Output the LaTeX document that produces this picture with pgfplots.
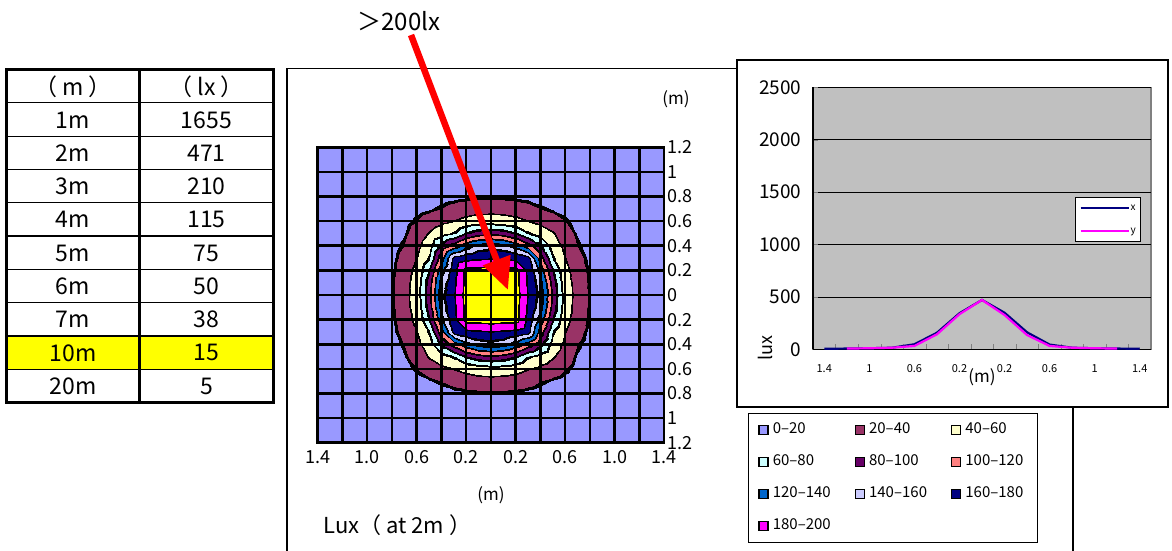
\documentclass[border=0pt]{standalone}
\usepackage{fontspec}
\setmainfont{Noto Sans CJK JP}
\usepackage{pgfplots}
\usepackage{pgfplotstable}
\pgfplotsset{compat=1.18}
\usetikzlibrary{arrows.meta}

\newcommand{\fsz}[1]{\fontsize{#1}{#1}\selectfont}

\definecolor{c0}{HTML}{9999FF}
\definecolor{c20}{HTML}{993366}
\definecolor{c40}{HTML}{FFFFCC}
\definecolor{c60}{HTML}{CCFFFF}
\definecolor{c80}{HTML}{660066}
\definecolor{c100}{HTML}{FF8080}
\definecolor{c120}{HTML}{0066CC}
\definecolor{c140}{HTML}{CCCCFF}
\definecolor{c160}{HTML}{000080}
\definecolor{c180}{HTML}{FF00FF}
\definecolor{c200}{HTML}{FFFF00}
\definecolor{plotgray}{HTML}{C0C0C0}
\definecolor{framegray}{HTML}{808080}

% bands of 20 lx, with a thin black band at each level (contour lines)
\pgfplotsset{colormap={lux}{
  color(0pt)=(c0) color(19.3pt)=(c0) color(19.4pt)=(black) color(22pt)=(black) color(22.1pt)=(c20)
  color(38.7pt)=(c20) color(38.8pt)=(black) color(41.2pt)=(black) color(41.3pt)=(c40)
  color(57.4pt)=(c40) color(57.5pt)=(black) color(64pt)=(black) color(64.1pt)=(c60)
  color(75.9pt)=(c60) color(76pt)=(black) color(84pt)=(black) color(84.1pt)=(c80)
  color(95.9pt)=(c80) color(96pt)=(black) color(104pt)=(black) color(104.1pt)=(c100)
  color(115.9pt)=(c100) color(116pt)=(black) color(124pt)=(black) color(124.1pt)=(c120)
  color(135.9pt)=(c120) color(136pt)=(black) color(144pt)=(black) color(144.1pt)=(c140)
  color(155.9pt)=(c140) color(156pt)=(black) color(162pt)=(black) color(162.1pt)=(c160)
  color(177.7pt)=(c160) color(177.8pt)=(black) color(182.2pt)=(black) color(182.3pt)=(c180)
  color(197.7pt)=(c180) color(197.8pt)=(black) color(202.2pt)=(black) color(202.3pt)=(c200)
  color(500pt)=(c200)}}

% illuminance (lx) at 2 m; 0.1 m steps in the middle, 0.2 m outside
\pgfplotstableread[row sep=\\]{
x y z\\
-1.4 -1.2 3.9\\ -1.2 -1.2 4.3\\ -1.0 -1.2 4.7\\ -0.8 -1.2 5.3\\ -0.7 -1.2 5.7\\ -0.6 -1.2 6\\ -0.5 -1.2 6.3\\ -0.4 -1.2 6.5\\ -0.3 -1.2 6.7\\ -0.2 -1.2 6.9\\ -0.1 -1.2 7\\ 0 -1.2 7\\ 0.1 -1.2 7\\ 0.2 -1.2 6.9\\ 0.3 -1.2 6.7\\ 0.4 -1.2 6.5\\ 0.5 -1.2 6.3\\ 0.6 -1.2 6\\ 0.7 -1.2 5.7\\ 0.8 -1.2 5.3\\ 1.0 -1.2 4.7\\ 1.2 -1.2 4.3\\ 1.4 -1.2 3.9\\
-1.4 -1.0 4\\ -1.2 -1.0 4.7\\ -1.0 -1.0 6.1\\ -0.8 -1.0 7.05\\ -0.7 -1.0 7.7\\ -0.6 -1.0 8.3\\ -0.5 -1.0 8.8\\ -0.4 -1.0 9.2\\ -0.3 -1.0 9.5\\ -0.2 -1.0 9.8\\ -0.1 -1.0 9.95\\ 0 -1.0 10\\ 0.1 -1.0 9.95\\ 0.2 -1.0 9.8\\ 0.3 -1.0 9.5\\ 0.4 -1.0 9.2\\ 0.5 -1.0 8.8\\ 0.6 -1.0 8.3\\ 0.7 -1.0 7.7\\ 0.8 -1.0 7.05\\ 1.0 -1.0 6.1\\ 1.2 -1.0 4.7\\ 1.4 -1.0 4\\
-1.4 -0.8 4.3\\ -1.2 -0.8 5.3\\ -1.0 -0.8 7.05\\ -0.8 -0.8 9.5\\ -0.7 -0.8 10.5\\ -0.6 -0.8 11.8\\ -0.5 -0.8 13\\ -0.4 -0.8 15.2\\ -0.3 -0.8 17\\ -0.2 -0.8 18.3\\ -0.1 -0.8 19.1\\ 0 -0.8 19.2\\ 0.1 -0.8 19.1\\ 0.2 -0.8 18.3\\ 0.3 -0.8 17\\ 0.4 -0.8 15.2\\ 0.5 -0.8 13\\ 0.6 -0.8 11.8\\ 0.7 -0.8 10.5\\ 0.8 -0.8 9.5\\ 1.0 -0.8 7.05\\ 1.2 -0.8 5.3\\ 1.4 -0.8 4.3\\
-1.4 -0.7 4.4\\ -1.2 -0.7 5.7\\ -1.0 -0.7 7.7\\ -0.8 -0.7 10.5\\ -0.7 -0.7 12.9\\ -0.6 -0.7 15.8\\ -0.5 -0.7 18.6\\ -0.4 -0.7 22.2\\ -0.3 -0.7 26.7\\ -0.2 -0.7 30\\ -0.1 -0.7 32\\ 0 -0.7 33\\ 0.1 -0.7 32\\ 0.2 -0.7 30\\ 0.3 -0.7 26.7\\ 0.4 -0.7 22.2\\ 0.5 -0.7 18.6\\ 0.6 -0.7 15.8\\ 0.7 -0.7 12.9\\ 0.8 -0.7 10.5\\ 1.0 -0.7 7.7\\ 1.2 -0.7 5.7\\ 1.4 -0.7 4.4\\
-1.4 -0.6 4.6\\ -1.2 -0.6 6\\ -1.0 -0.6 8.3\\ -0.8 -0.6 11.8\\ -0.7 -0.6 15.8\\ -0.6 -0.6 22.3\\ -0.5 -0.6 29\\ -0.4 -0.6 35\\ -0.3 -0.6 40\\ -0.2 -0.6 46\\ -0.1 -0.6 50\\ 0 -0.6 51\\ 0.1 -0.6 50\\ 0.2 -0.6 46\\ 0.3 -0.6 40\\ 0.4 -0.6 35\\ 0.5 -0.6 29\\ 0.6 -0.6 22.3\\ 0.7 -0.6 15.8\\ 0.8 -0.6 11.8\\ 1.0 -0.6 8.3\\ 1.2 -0.6 6\\ 1.4 -0.6 4.6\\
-1.4 -0.5 4.7\\ -1.2 -0.5 6.3\\ -1.0 -0.5 8.8\\ -0.8 -0.5 13\\ -0.7 -0.5 18.6\\ -0.6 -0.5 29\\ -0.5 -0.5 41\\ -0.4 -0.5 51.5\\ -0.3 -0.5 61\\ -0.2 -0.5 79\\ -0.1 -0.5 90\\ 0 -0.5 94\\ 0.1 -0.5 90\\ 0.2 -0.5 79\\ 0.3 -0.5 61\\ 0.4 -0.5 51.5\\ 0.5 -0.5 41\\ 0.6 -0.5 29\\ 0.7 -0.5 18.6\\ 0.8 -0.5 13\\ 1.0 -0.5 8.8\\ 1.2 -0.5 6.3\\ 1.4 -0.5 4.7\\
-1.4 -0.4 4.8\\ -1.2 -0.4 6.5\\ -1.0 -0.4 9.2\\ -0.8 -0.4 15.2\\ -0.7 -0.4 22.2\\ -0.6 -0.4 35\\ -0.5 -0.4 51.5\\ -0.4 -0.4 85\\ -0.3 -0.4 111\\ -0.2 -0.4 133\\ -0.1 -0.4 148\\ 0 -0.4 153\\ 0.1 -0.4 148\\ 0.2 -0.4 133\\ 0.3 -0.4 111\\ 0.4 -0.4 85\\ 0.5 -0.4 51.5\\ 0.6 -0.4 35\\ 0.7 -0.4 22.2\\ 0.8 -0.4 15.2\\ 1.0 -0.4 9.2\\ 1.2 -0.4 6.5\\ 1.4 -0.4 4.8\\
-1.4 -0.3 4.9\\ -1.2 -0.3 6.7\\ -1.0 -0.3 9.5\\ -0.8 -0.3 17\\ -0.7 -0.3 26.7\\ -0.6 -0.3 40\\ -0.5 -0.3 61\\ -0.4 -0.3 111\\ -0.3 -0.3 166\\ -0.2 -0.3 174\\ -0.1 -0.3 177\\ 0 -0.3 178\\ 0.1 -0.3 177\\ 0.2 -0.3 174\\ 0.3 -0.3 166\\ 0.4 -0.3 111\\ 0.5 -0.3 61\\ 0.6 -0.3 40\\ 0.7 -0.3 26.7\\ 0.8 -0.3 17\\ 1.0 -0.3 9.5\\ 1.2 -0.3 6.7\\ 1.4 -0.3 4.9\\
-1.4 -0.2 4.95\\ -1.2 -0.2 6.9\\ -1.0 -0.2 9.8\\ -0.8 -0.2 18.3\\ -0.7 -0.2 30\\ -0.6 -0.2 46\\ -0.5 -0.2 79\\ -0.4 -0.2 133\\ -0.3 -0.2 174\\ -0.2 -0.2 206\\ -0.1 -0.2 207\\ 0 -0.2 208\\ 0.1 -0.2 207\\ 0.2 -0.2 206\\ 0.3 -0.2 174\\ 0.4 -0.2 133\\ 0.5 -0.2 79\\ 0.6 -0.2 46\\ 0.7 -0.2 30\\ 0.8 -0.2 18.3\\ 1.0 -0.2 9.8\\ 1.2 -0.2 6.9\\ 1.4 -0.2 4.95\\
-1.4 -0.1 5\\ -1.2 -0.1 7\\ -1.0 -0.1 9.95\\ -0.8 -0.1 19.1\\ -0.7 -0.1 32\\ -0.6 -0.1 50\\ -0.5 -0.1 90\\ -0.4 -0.1 148\\ -0.3 -0.1 177\\ -0.2 -0.1 207\\ -0.1 -0.1 315\\ 0 -0.1 330\\ 0.1 -0.1 315\\ 0.2 -0.1 207\\ 0.3 -0.1 177\\ 0.4 -0.1 148\\ 0.5 -0.1 90\\ 0.6 -0.1 50\\ 0.7 -0.1 32\\ 0.8 -0.1 19.1\\ 1.0 -0.1 9.95\\ 1.2 -0.1 7\\ 1.4 -0.1 5\\
-1.4 0 5\\ -1.2 0 7\\ -1.0 0 10\\ -0.8 0 19.2\\ -0.7 0 33\\ -0.6 0 51\\ -0.5 0 94\\ -0.4 0 153\\ -0.3 0 178\\ -0.2 0 208\\ -0.1 0 330\\ 0 0 471\\ 0.1 0 330\\ 0.2 0 208\\ 0.3 0 178\\ 0.4 0 153\\ 0.5 0 94\\ 0.6 0 51\\ 0.7 0 33\\ 0.8 0 19.2\\ 1.0 0 10\\ 1.2 0 7\\ 1.4 0 5\\
-1.4 0.1 5\\ -1.2 0.1 7\\ -1.0 0.1 9.95\\ -0.8 0.1 19.1\\ -0.7 0.1 32\\ -0.6 0.1 50\\ -0.5 0.1 90\\ -0.4 0.1 148\\ -0.3 0.1 177\\ -0.2 0.1 207\\ -0.1 0.1 315\\ 0 0.1 330\\ 0.1 0.1 315\\ 0.2 0.1 207\\ 0.3 0.1 177\\ 0.4 0.1 148\\ 0.5 0.1 90\\ 0.6 0.1 50\\ 0.7 0.1 32\\ 0.8 0.1 19.1\\ 1.0 0.1 9.95\\ 1.2 0.1 7\\ 1.4 0.1 5\\
-1.4 0.2 4.95\\ -1.2 0.2 6.9\\ -1.0 0.2 9.8\\ -0.8 0.2 18.3\\ -0.7 0.2 30\\ -0.6 0.2 46\\ -0.5 0.2 79\\ -0.4 0.2 133\\ -0.3 0.2 174\\ -0.2 0.2 206\\ -0.1 0.2 207\\ 0 0.2 208\\ 0.1 0.2 207\\ 0.2 0.2 206\\ 0.3 0.2 174\\ 0.4 0.2 133\\ 0.5 0.2 79\\ 0.6 0.2 46\\ 0.7 0.2 30\\ 0.8 0.2 18.3\\ 1.0 0.2 9.8\\ 1.2 0.2 6.9\\ 1.4 0.2 4.95\\
-1.4 0.3 4.9\\ -1.2 0.3 6.7\\ -1.0 0.3 9.5\\ -0.8 0.3 17\\ -0.7 0.3 26.7\\ -0.6 0.3 40\\ -0.5 0.3 61\\ -0.4 0.3 111\\ -0.3 0.3 166\\ -0.2 0.3 174\\ -0.1 0.3 177\\ 0 0.3 178\\ 0.1 0.3 177\\ 0.2 0.3 174\\ 0.3 0.3 166\\ 0.4 0.3 111\\ 0.5 0.3 61\\ 0.6 0.3 40\\ 0.7 0.3 26.7\\ 0.8 0.3 17\\ 1.0 0.3 9.5\\ 1.2 0.3 6.7\\ 1.4 0.3 4.9\\
-1.4 0.4 4.8\\ -1.2 0.4 6.5\\ -1.0 0.4 9.2\\ -0.8 0.4 15.2\\ -0.7 0.4 22.2\\ -0.6 0.4 35\\ -0.5 0.4 51.5\\ -0.4 0.4 85\\ -0.3 0.4 111\\ -0.2 0.4 133\\ -0.1 0.4 148\\ 0 0.4 153\\ 0.1 0.4 148\\ 0.2 0.4 133\\ 0.3 0.4 111\\ 0.4 0.4 85\\ 0.5 0.4 51.5\\ 0.6 0.4 35\\ 0.7 0.4 22.2\\ 0.8 0.4 15.2\\ 1.0 0.4 9.2\\ 1.2 0.4 6.5\\ 1.4 0.4 4.8\\
-1.4 0.5 4.7\\ -1.2 0.5 6.3\\ -1.0 0.5 8.8\\ -0.8 0.5 13\\ -0.7 0.5 18.6\\ -0.6 0.5 29\\ -0.5 0.5 41\\ -0.4 0.5 51.5\\ -0.3 0.5 61\\ -0.2 0.5 79\\ -0.1 0.5 90\\ 0 0.5 94\\ 0.1 0.5 90\\ 0.2 0.5 79\\ 0.3 0.5 61\\ 0.4 0.5 51.5\\ 0.5 0.5 41\\ 0.6 0.5 29\\ 0.7 0.5 18.6\\ 0.8 0.5 13\\ 1.0 0.5 8.8\\ 1.2 0.5 6.3\\ 1.4 0.5 4.7\\
-1.4 0.6 4.6\\ -1.2 0.6 6\\ -1.0 0.6 8.3\\ -0.8 0.6 11.8\\ -0.7 0.6 15.8\\ -0.6 0.6 22.3\\ -0.5 0.6 29\\ -0.4 0.6 35\\ -0.3 0.6 40\\ -0.2 0.6 46\\ -0.1 0.6 50\\ 0 0.6 51\\ 0.1 0.6 50\\ 0.2 0.6 46\\ 0.3 0.6 40\\ 0.4 0.6 35\\ 0.5 0.6 29\\ 0.6 0.6 22.3\\ 0.7 0.6 15.8\\ 0.8 0.6 11.8\\ 1.0 0.6 8.3\\ 1.2 0.6 6\\ 1.4 0.6 4.6\\
-1.4 0.7 4.4\\ -1.2 0.7 5.7\\ -1.0 0.7 7.7\\ -0.8 0.7 10.5\\ -0.7 0.7 12.9\\ -0.6 0.7 15.8\\ -0.5 0.7 18.6\\ -0.4 0.7 22.2\\ -0.3 0.7 26.7\\ -0.2 0.7 30\\ -0.1 0.7 32\\ 0 0.7 33\\ 0.1 0.7 32\\ 0.2 0.7 30\\ 0.3 0.7 26.7\\ 0.4 0.7 22.2\\ 0.5 0.7 18.6\\ 0.6 0.7 15.8\\ 0.7 0.7 12.9\\ 0.8 0.7 10.5\\ 1.0 0.7 7.7\\ 1.2 0.7 5.7\\ 1.4 0.7 4.4\\
-1.4 0.8 4.3\\ -1.2 0.8 5.3\\ -1.0 0.8 7.05\\ -0.8 0.8 9.5\\ -0.7 0.8 10.5\\ -0.6 0.8 11.8\\ -0.5 0.8 13\\ -0.4 0.8 15.2\\ -0.3 0.8 17\\ -0.2 0.8 18.3\\ -0.1 0.8 19.1\\ 0 0.8 19.2\\ 0.1 0.8 19.1\\ 0.2 0.8 18.3\\ 0.3 0.8 17\\ 0.4 0.8 15.2\\ 0.5 0.8 13\\ 0.6 0.8 11.8\\ 0.7 0.8 10.5\\ 0.8 0.8 9.5\\ 1.0 0.8 7.05\\ 1.2 0.8 5.3\\ 1.4 0.8 4.3\\
-1.4 1.0 4\\ -1.2 1.0 4.7\\ -1.0 1.0 6.1\\ -0.8 1.0 7.05\\ -0.7 1.0 7.7\\ -0.6 1.0 8.3\\ -0.5 1.0 8.8\\ -0.4 1.0 9.2\\ -0.3 1.0 9.5\\ -0.2 1.0 9.8\\ -0.1 1.0 9.95\\ 0 1.0 10\\ 0.1 1.0 9.95\\ 0.2 1.0 9.8\\ 0.3 1.0 9.5\\ 0.4 1.0 9.2\\ 0.5 1.0 8.8\\ 0.6 1.0 8.3\\ 0.7 1.0 7.7\\ 0.8 1.0 7.05\\ 1.0 1.0 6.1\\ 1.2 1.0 4.7\\ 1.4 1.0 4\\
-1.4 1.2 3.9\\ -1.2 1.2 4.3\\ -1.0 1.2 4.7\\ -0.8 1.2 5.3\\ -0.7 1.2 5.7\\ -0.6 1.2 6\\ -0.5 1.2 6.3\\ -0.4 1.2 6.5\\ -0.3 1.2 6.7\\ -0.2 1.2 6.9\\ -0.1 1.2 7\\ 0 1.2 7\\ 0.1 1.2 7\\ 0.2 1.2 6.9\\ 0.3 1.2 6.7\\ 0.4 1.2 6.5\\ 0.5 1.2 6.3\\ 0.6 1.2 6\\ 0.7 1.2 5.7\\ 0.8 1.2 5.3\\ 1.0 1.2 4.7\\ 1.2 1.2 4.3\\ 1.4 1.2 3.9\\
}\luxgrid

\begin{document}
\begin{tikzpicture}[x=1pt,y=-1pt]
\path[use as bounding box] (0,0) rectangle (1172,551);

% distance table
\fill[c200] (6,336) rectangle (273,369);
\foreach \k in {1,...,9}
  \draw[line width=1.2pt] (6,{69.5+33.3*\k}) -- (273,{69.5+33.3*\k});
\draw[line width=3pt] (6,69.5) rectangle (273,402.5);
\draw[line width=3pt] (139.5,69.5) -- (139.5,402.5);
\foreach \a/\b [count=\i from 0] in {（ m ）/（ lx ）,1m/1655,2m/471,3m/210,4m/115,5m/75,6m/50,7m/38,10m/15,20m/5} {
  \node[font=\fsz{23}] at (73,{86.5+33.3*\i}) {\a};
  \node[font=\fsz{23}] at (206.5,{86.5+33.3*\i}) {\b};
}

% frame of the contour chart
\draw[line width=1.2pt] (287,551) -- (287,68.5) -- (737,68.5);
\draw[line width=1.2pt] (1073,407) -- (1073,551);
\node[font=\fsz{17}] at (676,99) {(m)};
\node[font=\fsz{17}] at (491,495) {(m)};
\node[font=\fsz{22}, anchor=west] at (320,525) {Lux（ at 2m ）};

\begin{axis}[
  at={(317.7pt,-442.7pt)}, anchor=south west,
  scale only axis, width=346.3pt, height=295.4pt,
  xmin=-1.4, xmax=1.4, ymin=-1.2, ymax=1.2,
  axis on top,
  xtick={-1.4,-1.2,-1,-0.8,-0.6,-0.4,-0.2,0,0.2,0.4,0.6,0.8,1,1.2,1.4},
  xticklabels={1.4,,1.0,,0.6,,0.2,,0.2,,0.6,,1.0,,1.4},
  ytick={-1.2,-1,-0.8,-0.6,-0.4,-0.2,0,0.2,0.4,0.6,0.8,1,1.2},
  yticklabels={1.2,1,0.8,0.6,0.4,0.2,0,0.2,0.4,0.6,0.8,1,1.2},
  yticklabel pos=right,
  major tick length=0pt,
  grid=major,
  major grid style={black, line width=2.6pt},
  axis line style={black, line width=2.6pt},
  tick label style={font=\fsz{18}},
  xticklabel style={yshift=-4pt},
  colormap name=lux, point meta min=0, point meta max=500,
  legend columns=3,
  legend cell align=left,
  legend style={at={(1.2425,0.1005)}, anchor=north west, draw=black, line width=1pt,
    fill=white, inner xsep=10pt, inner ysep=10pt, row sep=19pt, font=\fsz{15},
    nodes={inner sep=0pt, text width=62pt, align=left, text height=10pt, text depth=3pt},
    /tikz/every odd column/.append style={column sep=4pt},
    /tikz/every even column/.append style={column sep=20pt}},
  legend image code/.code={\draw[#1, draw=black, line width=1.3pt] (0pt,-4.5pt) rectangle (9pt,4.5pt);},
]
\addplot[surf, shader=interp, mesh/cols=23, point meta=explicit, forget plot]
  table[x=x, y=y, meta=z] {\luxgrid};
\addlegendimage{fill=c0}   \addlegendentry{0–20}
\addlegendimage{fill=c20}  \addlegendentry{20–40}
\addlegendimage{fill=c40}  \addlegendentry{40–60}
\addlegendimage{fill=c60}  \addlegendentry{60–80}
\addlegendimage{fill=c80}  \addlegendentry{80–100}
\addlegendimage{fill=c100} \addlegendentry{100–120}
\addlegendimage{fill=c120} \addlegendentry{120–140}
\addlegendimage{fill=c140} \addlegendentry{140–160}
\addlegendimage{fill=c160} \addlegendentry{160–180}
\addlegendimage{fill=c180} \addlegendentry{180–200}
\end{axis}

% profile chart
\draw[line width=1.2pt, fill=white] (737,60) rectangle (1168,407);
\begin{axis}[
  at={(813pt,-349.3pt)}, anchor=south west,
  scale only axis, width=338pt, height=262pt,
  xmin=-0.5, xmax=14.5, ymin=0, ymax=2500,
  axis lines=left,
  axis line style={-, black, line width=1.2pt},
  axis background/.style={fill=plotgray, draw=framegray, line width=1.5pt},
  tick align=inside, major tick length=5pt,
  xtick={0.5,1.5,...,13.5}, xticklabels={},
  extra x ticks={0,2,4,6,8,10,12,14},
  extra x tick labels={1.4,1,0.6,0.2,0.2,0.6,1,1.4},
  extra x tick style={major tick length=0pt, xticklabel style={font=\fsz{11}, yshift=-12pt}},
  ytick={0,500,1000,1500,2000,2500},
  yticklabels={0,500,1000,1500,2000,2500},
  yticklabel style={font=\fsz{19}, xshift=-8pt},
  ymajorgrids, major grid style={black, line width=0.7pt},
  xlabel={(m)}, xlabel style={at={(axis description cs:0.5,0)}, anchor=center, yshift=-28pt, font=\fsz{17}},
  ylabel={lux}, ylabel style={at={(axis description cs:-0.142,0.005)}, anchor=center, font=\fsz{18}},
  legend cell align=left,
  legend style={at={(0.775,0.581)}, anchor=north west, draw=black, line width=1pt, fill=white,
    font=\fsz{10}, inner xsep=4pt, inner ysep=5pt, row sep=12pt,
    nodes={inner sep=1pt, text height=7pt, text depth=2pt}},
  legend image code/.code={\draw[#1] (0pt,0pt) -- (48pt,0pt);},
]
\addplot[color=c160, line width=2.2pt]
  coordinates {(0,5)(1,7)(2,10)(3,15)(4,48)(5,158)(6,344)(7,471)(8,349)(9,162)(10,45)(11,15)(12,10)(13,7)(14,5)};
\addlegendentry{x}
\addplot[color=c180, line width=2.2pt]
  coordinates {(1,7)(2,10)(3,15)(4,32)(5,143)(6,335)(7,471)(8,327)(9,136)(10,32)(11,15)(12,10)(13,7)};
\addlegendentry{y}
\end{axis}

% pointer to the >200 lx area
\draw[red, line width=6.5pt, -{Triangle[length=32pt,width=28pt]}] (411,35) -- (508,290);
\node[font=\fsz{24}] at (399,21) {＞200lx};
\end{tikzpicture}
\end{document}
